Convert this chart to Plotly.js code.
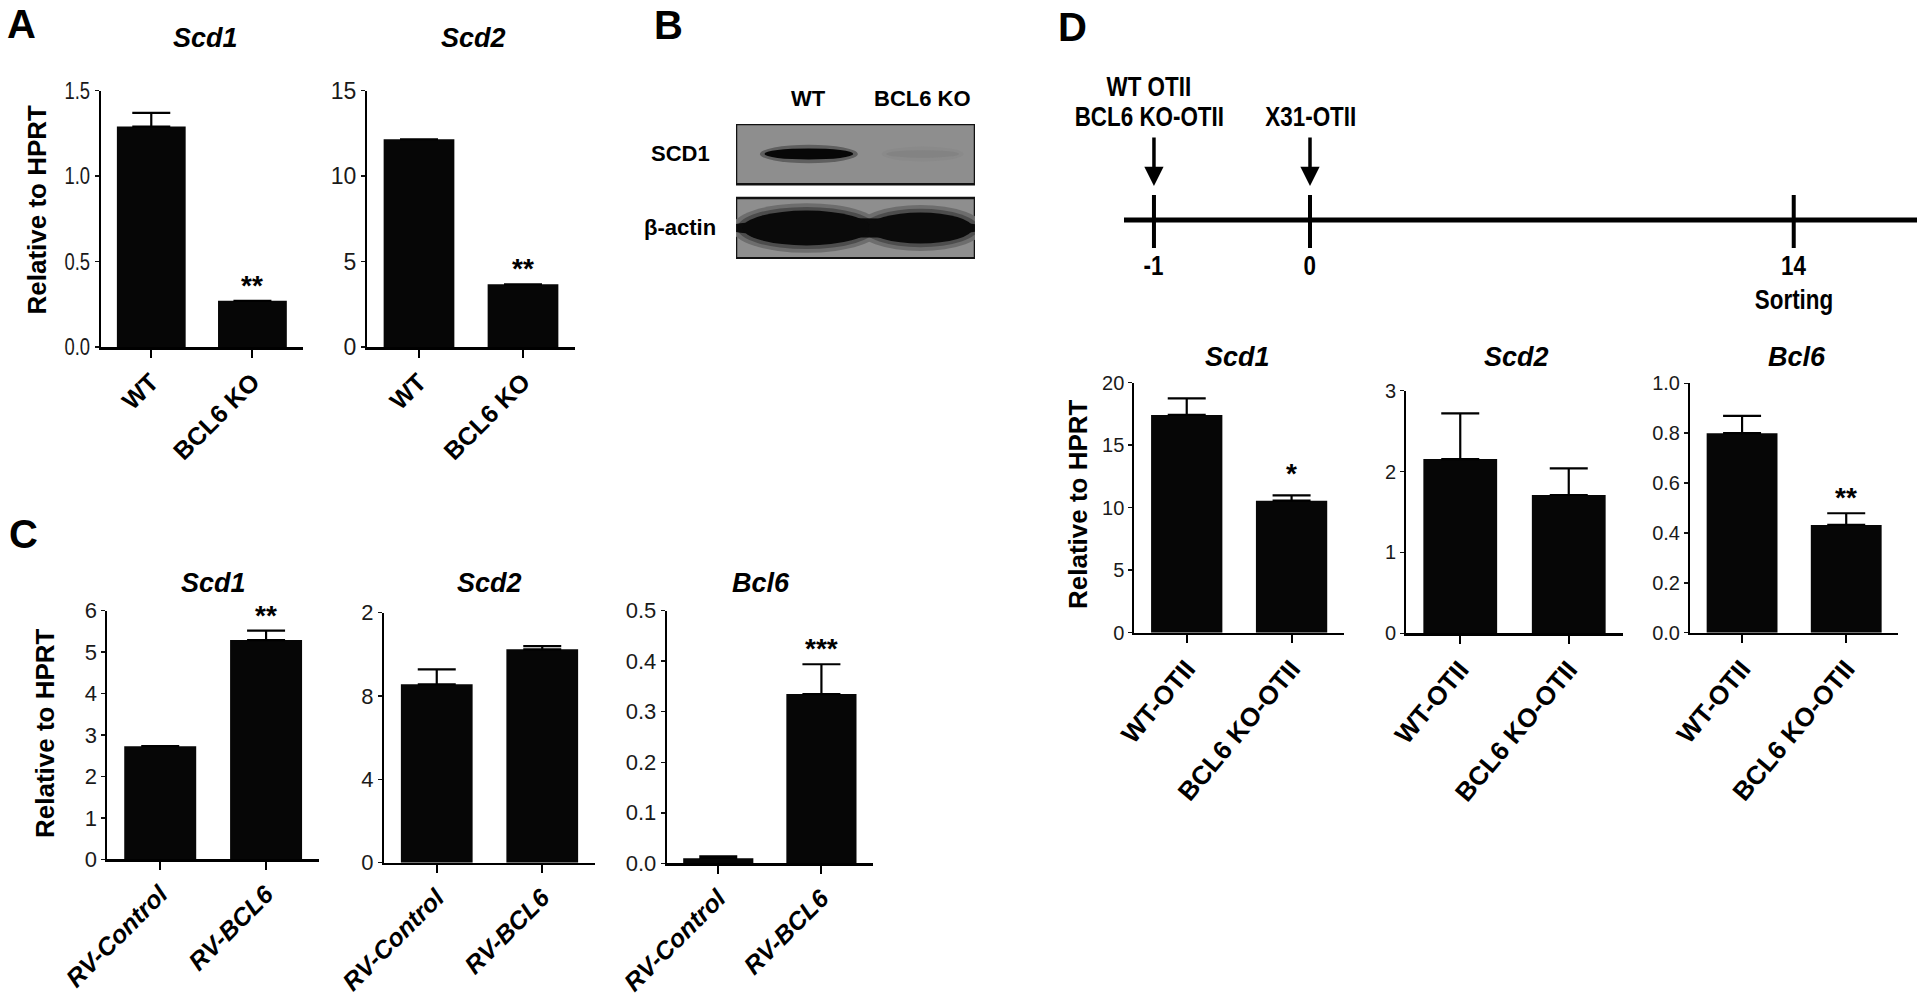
<!DOCTYPE html>
<html>
<head>
<meta charset="utf-8">
<script src="https://cdn.plot.ly/plotly-3.0.1.min.js"></script>
<style>html,body{margin:0;padding:0;background:#fff;}#chart{width:1920px;height:1005px;}</style>
</head>
<body>
<div id="chart"></div>
<script>
// ---------------- DATA ----------------
const catsA = ['WT', 'BCL6 KO'];
const aScd1Mean = [1.29, 0.27];
const aScd1Err = [0.08, 0];
const aScd1Sig = ['', '**'];
const aScd2Mean = [12.16, 3.67];
const aScd2Err = [0, 0];
const aScd2Sig = ['', '**'];

const catsC = ['RV-Control', 'RV-BCL6'];
const cScd1Mean = [2.73, 5.29];
const cScd1Err = [0, 0.23];
const cScd1Sig = ['', '**'];
const cScd2Mean = [8.56, 10.24];
const cScd2Err = [0.72, 0.16];
const cScd2Sig = ['', ''];
const cBcl6Mean = [0.010, 0.335];
const cBcl6Err = [0.004, 0.059];
const cBcl6Sig = ['', '***'];

const catsD = ['WT-OTII', 'BCL6 KO-OTII'];
const dScd1Mean = [17.42, 10.56];
const dScd1Err = [1.33, 0.43];
const dScd1Sig = ['', '*'];
const dScd2Mean = [2.155, 1.71];
const dScd2Err = [0.565, 0.33];
const dScd2Sig = ['', ''];
const dBcl6Mean = [0.80, 0.432];
const dBcl6Err = [0.069, 0.047];
const dBcl6Sig = ['', '**'];

// y tick values / labels
const aScd1Ticks = [0, 0.5, 1.0, 1.5], aScd1TickText = ['0.0', '0.5', '1.0', '1.5'];
const aScd2Ticks = [0, 5, 10, 15], aScd2TickText = ['0', '5', '10', '15'];
const cScd1Ticks = [0, 1, 2, 3, 4, 5, 6], cScd1TickText = ['0', '1', '2', '3', '4', '5', '6'];
const cScd2Ticks = [0, 4, 8, 12], cScd2TickText = ['0', '4', '8', '2'];
const cBcl6Ticks = [0, 0.1, 0.2, 0.3, 0.4, 0.5], cBcl6TickText = ['0.0', '0.1', '0.2', '0.3', '0.4', '0.5'];
const dScd1Ticks = [0, 5, 10, 15, 20], dScd1TickText = ['0', '5', '10', '15', '20'];
const dScd2Ticks = [0, 1, 2, 3], dScd2TickText = ['0', '1', '2', '3'];
const dBcl6Ticks = [0, 0.2, 0.4, 0.6, 0.8, 1.0], dBcl6TickText = ['0.0', '0.2', '0.4', '0.6', '0.8', '1.0'];

// western blot (panel B)
const blotLanes = ['WT', 'BCL6 KO'];
const blotRows = ['β-actin', 'SCD1'];
const scd1BandIntensity = [0.95, 0.08];
const actinBandIntensity = [0.93, 0.92];

// timeline (panel D)
const timelineDays = ['-1', '0', '14'];
const timelineSlots = [0, 1, 4.1];       // schematic (not to scale) positions
const timelineEvents = [['WT OTII', 'BCL6 KO-OTII'], ['X31-OTII'], []];
const timelineNotes = ['', '', 'Sorting'];

// ---------------- LAYOUT HELPERS ----------------
const W = 1920, H = 1005;
const fx = p => p / W;
const fy = p => 1 - p / H;

const SANS = 'Liberation Sans, Arial, Helvetica, sans-serif';

const panels = [
  {id: '', mean: aScd1Mean, err: aScd1Err, sig: aScd1Sig, cats: catsA, tv: aScd1Ticks, tt: aScd1TickText, max: 1.5,
   px: [100.7, 303], py: [90.7, 347], title: 'Scd1', tpos: [205, 38], catItalic: false, tickSize: 23, catAngle: -45, catSize: 25},
  {id: '2', mean: aScd2Mean, err: aScd2Err, sig: aScd2Sig, cats: catsA, tv: aScd2Ticks, tt: aScd2TickText, max: 15,
   px: [367, 575], py: [90.7, 347], title: 'Scd2', tpos: [473, 38], catItalic: false, tickSize: 23, catAngle: -45, catSize: 25},
  {id: '3', mean: cScd1Mean, err: cScd1Err, sig: cScd1Sig, cats: catsC, tv: cScd1Ticks, tt: cScd1TickText, max: 6,
   px: [107.3, 319], py: [610.7, 859.3], title: 'Scd1', tpos: [213, 583], catItalic: true, tickSize: 22, catAngle: -45, catSize: 25},
  {id: '4', mean: cScd2Mean, err: cScd2Err, sig: cScd2Sig, cats: catsC, tv: cScd2Ticks, tt: cScd2TickText, max: 12,
   px: [384, 595], py: [612.7, 862.7], title: 'Scd2', tpos: [490, 583], catItalic: true, tickSize: 22, catAngle: -45, catSize: 25},
  {id: '5', mean: cBcl6Mean, err: cBcl6Err, sig: cBcl6Sig, cats: catsC, tv: cBcl6Ticks, tt: cBcl6TickText, max: 0.5,
   px: [666.7, 873], py: [610.7, 863.3], title: 'Bcl6', tpos: [761, 583], catItalic: true, tickSize: 22, catAngle: -45, catSize: 25},
  {id: '6', mean: dScd1Mean, err: dScd1Err, sig: dScd1Sig, cats: catsD, tv: dScd1Ticks, tt: dScd1TickText, max: 20,
   px: [1134.3, 1344], py: [382.7, 632.7], title: 'Scd1', tpos: [1237, 357], catItalic: false, tickSize: 20, catAngle: -50, catSize: 26},
  {id: '7', mean: dScd2Mean, err: dScd2Err, sig: dScd2Sig, cats: catsD, tv: dScd2Ticks, tt: dScd2TickText, max: 3,
   px: [1406, 1623], py: [390.7, 633.3], title: 'Scd2', tpos: [1516, 357], catItalic: false, tickSize: 20, catAngle: -50, catSize: 26},
  {id: '8', mean: dBcl6Mean, err: dBcl6Err, sig: dBcl6Sig, cats: catsD, tv: dBcl6Ticks, tt: dBcl6TickText, max: 1.0,
   px: [1690, 1898.3], py: [383.3, 632.7], title: 'Bcl6', tpos: [1797, 357], catItalic: false, tickSize: 20, catAngle: -50, catSize: 26}
];

const traces = [];
const annotations = [];
const shapes = [];
const layout = {
  width: W, height: H,
  margin: {l: 0, r: 0, t: 0, b: 0},
  paper_bgcolor: '#ffffff', plot_bgcolor: 'rgba(0,0,0,0)',
  showlegend: false,
  font: {family: SANS, color: '#000'}
};

panels.forEach(p => {
  const xa = 'x' + p.id, ya = 'y' + p.id;
  traces.push({
    type: 'bar', x: [0, 1], y: p.mean, width: 0.68, xaxis: xa, yaxis: ya,
    marker: {color: '#060606', line: {width: 0}},
    error_y: {type: 'data', symmetric: false, array: p.err, arrayminus: [0, 0],
              color: '#000', thickness: 2.2, width: 19},
    hoverinfo: 'skip'
  });
  layout['xaxis' + p.id] = {
    domain: [fx(p.px[0]), fx(p.px[1])], anchor: ya, range: [-0.5, 1.5],
    tickmode: 'array', tickvals: [0, 1], ticktext: p.cats, tickangle: p.catAngle,
    ticks: 'outside', ticklen: 8, tickwidth: 2, tickcolor: '#000',
    showline: true, linewidth: 2.5, linecolor: '#000',
    showgrid: false, zeroline: false, fixedrange: true,
    tickfont: {family: SANS, size: p.catSize, weight: 'bold', style: p.catItalic ? 'italic' : 'normal', color: '#000'}
  };
  layout['yaxis' + p.id] = {
    domain: [fy(p.py[1]), fy(p.py[0])], anchor: xa, range: [0, p.max],
    tickmode: 'array', tickvals: p.tv, ticktext: p.tt,
    ticks: 'outside', ticklen: 4, tickwidth: 1.5, tickcolor: '#111',
    showline: true, linewidth: 2, linecolor: '#000',
    showgrid: false, zeroline: false, fixedrange: true,
    tickfont: {family: SANS, size: p.tickSize, color: '#1a1a1a'}
  };
  annotations.push({
    xref: 'paper', yref: 'paper', x: fx(p.tpos[0]), y: fy(p.tpos[1]),
    text: p.title, showarrow: false, xanchor: 'center', yanchor: 'middle',
    font: {family: SANS, size: 27, weight: 'bold', style: 'italic', color: '#000'}
  });
  p.sig.forEach((s, i) => {
    if (!s) return;
    annotations.push({
      xref: xa, yref: ya, x: i, y: p.mean[i] + p.err[i], text: s,
      showarrow: false, xanchor: 'center', yanchor: 'bottom', yshift: s === '*' ? 4 : -2,
      font: {family: SANS, size: 28, weight: 'bold', color: '#000'}
    });
  });
});

// y-axis titles
[[36.5, 210], [45, 733], [1078, 504]].forEach(pos => {
  annotations.push({
    xref: 'paper', yref: 'paper', x: fx(pos[0]), y: fy(pos[1]), text: 'Relative to HPRT',
    textangle: -90, showarrow: false, xanchor: 'center', yanchor: 'middle',
    font: {family: SANS, size: 26, weight: 'bold', color: '#000'}
  });
});

// panel letters
[['A', 21, 24], ['B', 668, 25], ['C', 23, 534], ['D', 1072, 27]].forEach(l => {
  annotations.push({
    xref: 'paper', yref: 'paper', x: fx(l[1]), y: fy(l[2]), text: l[0],
    showarrow: false, xanchor: 'center', yanchor: 'middle',
    font: {family: SANS, size: 40, weight: 'bold', color: '#000'}
  });
});

// ---------------- PANEL B : western blot ----------------
layout.xaxis9 = {domain: [fx(736), fx(975)], anchor: 'y9', range: [-0.64, 1.46],
  visible: false, fixedrange: true};
layout.yaxis9 = {domain: [fy(259), fy(124)], anchor: 'x9', range: [-0.419, 1.405],
  visible: false, fixedrange: true};
const BG = 142;
const grey = i => { const v = Math.round(BG * (1 - i)); return `rgb(${v},${v},${v})`; };
blotRows.forEach((r, ri) => {
  shapes.push({type: 'rect', xref: 'x9', yref: 'y9', x0: -0.64, x1: 1.46, y0: ri - 0.41, y1: ri + 0.405,
    fillcolor: `rgb(${BG},${BG},${BG})`, line: {color: '#111', width: 2.5}, layer: 'below'});
});
const actinHalfW = [0.56, 0.46], actinHalfH = [0.235, 0.21];
[0.25, 0.5].forEach((f, k) => {
  const pad = 0.05 * (2 - k);
  blotLanes.forEach((ln, i) => {
    shapes.push({type: 'circle', xref: 'x9', yref: 'y9',
      x0: i - actinHalfW[i] - 0.02 - pad, x1: i + actinHalfW[i] - 0.02 + pad,
      y0: -actinHalfH[i] - pad, y1: actinHalfH[i] + pad,
      fillcolor: grey(actinBandIntensity[i] * f), line: {width: 0}});
  });
});
shapes.push({type: 'circle', xref: 'x9', yref: 'y9', x0: -0.75, x1: 1.55, y0: -0.13, y1: 0.13,
  fillcolor: grey(Math.min(...actinBandIntensity)), line: {width: 0}});
blotLanes.forEach((ln, i) => {
  shapes.push({type: 'circle', xref: 'x9', yref: 'y9',
    x0: i - actinHalfW[i] - 0.02, x1: i + actinHalfW[i] - 0.02, y0: -actinHalfH[i], y1: actinHalfH[i],
    fillcolor: grey(actinBandIntensity[i]), line: {width: 0}});
});
const scdHalfW = [0.39, 0.32], scdHalfH = [0.075, 0.05];
blotLanes.forEach((ln, i) => {
  shapes.push({type: 'circle', xref: 'x9', yref: 'y9',
    x0: i - scdHalfW[i] - 0.04, x1: i + scdHalfW[i] + 0.04, y0: 1 - scdHalfH[i] - 0.05, y1: 1 + scdHalfH[i] + 0.05,
    fillcolor: grey(scd1BandIntensity[i] * 0.35), line: {width: 0}});
  shapes.push({type: 'circle', xref: 'x9', yref: 'y9',
    x0: i - scdHalfW[i], x1: i + scdHalfW[i], y0: 1 - scdHalfH[i], y1: 1 + scdHalfH[i],
    fillcolor: grey(scd1BandIntensity[i]), line: {width: 0}});
});
blotLanes.forEach((ln, i) => {
  annotations.push({xref: 'x9', yref: 'paper', x: i, y: fy(98), text: ln, showarrow: false,
    xanchor: 'center', yanchor: 'middle', font: {family: SANS, size: 22, weight: 'bold', color: '#000'}});
});
blotRows.forEach((r, ri) => {
  annotations.push({xref: 'paper', yref: 'y9', x: fx(680), y: ri, text: r, showarrow: false,
    xanchor: 'center', yanchor: 'middle', font: {family: SANS, size: 22, weight: 'bold', color: '#000'}});
});
traces.push({type: 'scatter', x: [0, 1], y: [0, 1], xaxis: 'x9', yaxis: 'y9', mode: 'markers',
  marker: {opacity: 0}, hoverinfo: 'skip'});

// ---------------- PANEL D : timeline ----------------
layout.xaxis10 = {domain: [fx(1124), fx(1917)], anchor: 'y10', range: [-0.192, 4.89],
  visible: false, fixedrange: true};
layout.yaxis10 = {domain: [fy(320), fy(60)], anchor: 'x10', range: [-100, 160],
  visible: false, fixedrange: true};
traces.push({type: 'scatter', mode: 'lines', xaxis: 'x10', yaxis: 'y10',
  x: [-0.192, 4.89], y: [0, 0], line: {color: '#000', width: 5}, hoverinfo: 'skip'});
const tickX = [], tickY = [];
timelineSlots.forEach(s => { tickX.push(s, s, null); tickY.push(25, -28, null); });
traces.push({type: 'scatter', mode: 'lines', xaxis: 'x10', yaxis: 'y10',
  x: tickX, y: tickY, line: {color: '#000', width: 4}, hoverinfo: 'skip'});
const TLFONT = {family: SANS, size: 28, weight: 'bold', color: '#000'};
const narrowTexts = new Set();
timelineSlots.forEach((s, i) => {
  annotations.push({xref: 'x10', yref: 'y10', x: s, y: -46, text: timelineDays[i], showarrow: false,
    xanchor: 'center', yanchor: 'middle', font: TLFONT});
  narrowTexts.add(timelineDays[i]);
  if (timelineNotes[i]) {
    annotations.push({xref: 'x10', yref: 'y10', x: s, y: -80, text: timelineNotes[i], showarrow: false,
      xanchor: 'center', yanchor: 'middle', font: TLFONT});
    narrowTexts.add(timelineNotes[i]);
  }
  const ev = timelineEvents[i];
  if (ev.length) {
    annotations.push({xref: 'x10', yref: 'y10', x: s, y: 34, ax: s, ay: 84, axref: 'x10', ayref: 'y10',
      text: '', showarrow: true, arrowhead: 2, arrowsize: 1.1, arrowwidth: 3.5, arrowcolor: '#000', standoff: 0});
    ev.slice().reverse().forEach((t, k) => {
      annotations.push({xref: 'x10', yref: 'y10', x: s - 0.03 * (i === 0 ? 1 : -0.2), y: 103 + 30 * k, text: t,
        showarrow: false, xanchor: 'center', yanchor: 'middle', font: TLFONT});
      narrowTexts.add(t);
    });
  }
});

layout.annotations = annotations;
layout.shapes = shapes;

// emulate the condensed typeface of the original (numbers and timeline text)
function condense(el, f) {
  const w = el.getComputedTextLength();
  if (w > 0) {
    el.setAttribute('textLength', (w * f).toFixed(2));
    el.setAttribute('lengthAdjust', 'spacingAndGlyphs');
  }
}

Plotly.newPlot('chart', traces, layout, {staticPlot: true, displayModeBar: false}).then(gd => {
  gd.querySelectorAll('g.ytick text').forEach(t => condense(t, 0.8));
  gd.querySelectorAll('text.annotation-text').forEach(t => {
    if (narrowTexts.has(t.textContent)) condense(t, 0.8);
  });
});
</script>
</body>
</html>
